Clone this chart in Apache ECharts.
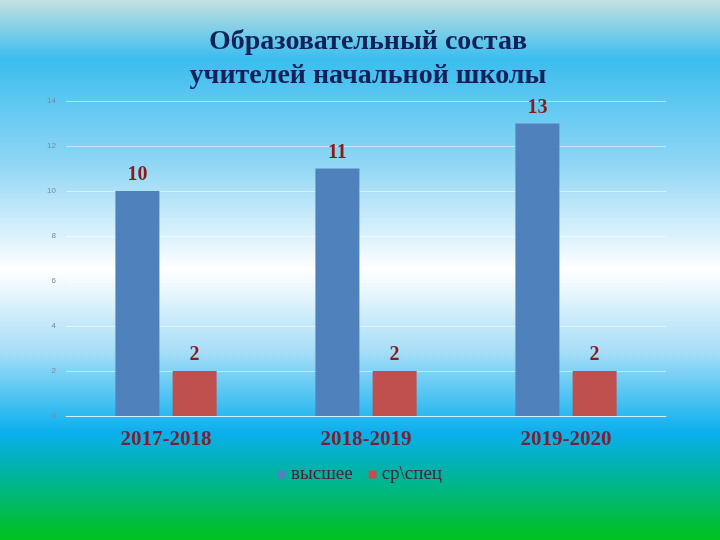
<!DOCTYPE html>
<html><head><meta charset="utf-8">
<script src="https://cdn.jsdelivr.net/npm/echarts@6/dist/echarts.min.js"></script>
<style>html,body{margin:0;padding:0;}#c{width:720px;height:540px;}</style>
</head><body><div id="c"></div>
<script>
const categories = ['2017-2018', '2018-2019', '2019-2020'];
const higher = [10, 11, 13];
const secondary = [2, 2, 2];
const seriesNames = ['высшее', 'ср\\спец'];
const titleText = 'Образовательный состав\nучителей начальной школы';

const chart = echarts.init(document.getElementById('c'));
const labelStyle = {show: true, position: 'top', distance: 6, color: '#8b1a1a', fontFamily: 'Liberation Serif', fontWeight: 'bold', fontSize: 20};
chart.setOption({
  backgroundColor: {type: 'linear', x: 0, y: 0, x2: 0, y2: 1, colorStops: [
    {offset: 0, color: '#c4e0e0'},
    {offset: 0.11, color: '#3bbdee'},
    {offset: 0.3, color: '#8fd6f5'},
    {offset: 0.5, color: '#ffffff'},
    {offset: 0.65, color: '#a8def7'},
    {offset: 0.8, color: '#0bafee'},
    {offset: 0.87, color: '#00b3a8'},
    {offset: 1, color: '#00c21c'}
  ]},
  title: {text: titleText, left: 363, top: 20, textAlign: 'center',
    textStyle: {fontFamily: 'Liberation Serif', fontWeight: 'bold', fontSize: 28, color: '#13215a', lineHeight: 34}},
  legend: {data: seriesNames, top: 460, left: 'center', itemWidth: 8, itemHeight: 8, itemGap: 16, icon: 'rect',
    textStyle: {fontFamily: 'Liberation Serif', fontSize: 19, color: '#4a2030'}},
  grid: {left: 66, right: 54, top: 101, bottom: 124},
  xAxis: {type: 'category', data: categories,
    axisLine: {show: true, lineStyle: {color: 'rgba(255,255,255,0.6)'}}, axisTick: {show: false},
    axisLabel: {margin: 13, fontFamily: 'Liberation Serif', fontWeight: 'bold', fontSize: 21, color: '#7a1f35'}},
  yAxis: {type: 'value', min: 0, max: 14, interval: 2,
    axisLine: {show: false}, axisTick: {show: false},
    axisLabel: {fontSize: 8, color: '#7a8a98', margin: 10, fontFamily: 'Liberation Sans'},
    splitLine: {lineStyle: {color: 'rgba(255,255,255,0.5)'}}},
  series: [
    {name: seriesNames[0], type: 'bar', data: higher, barWidth: 44, barGap: '30%', itemStyle: {color: '#4f81bd'}, label: labelStyle},
    {name: seriesNames[1], type: 'bar', data: secondary, barWidth: 44, itemStyle: {color: '#c0504d'}, label: labelStyle}
  ]
});
</script></body></html>
